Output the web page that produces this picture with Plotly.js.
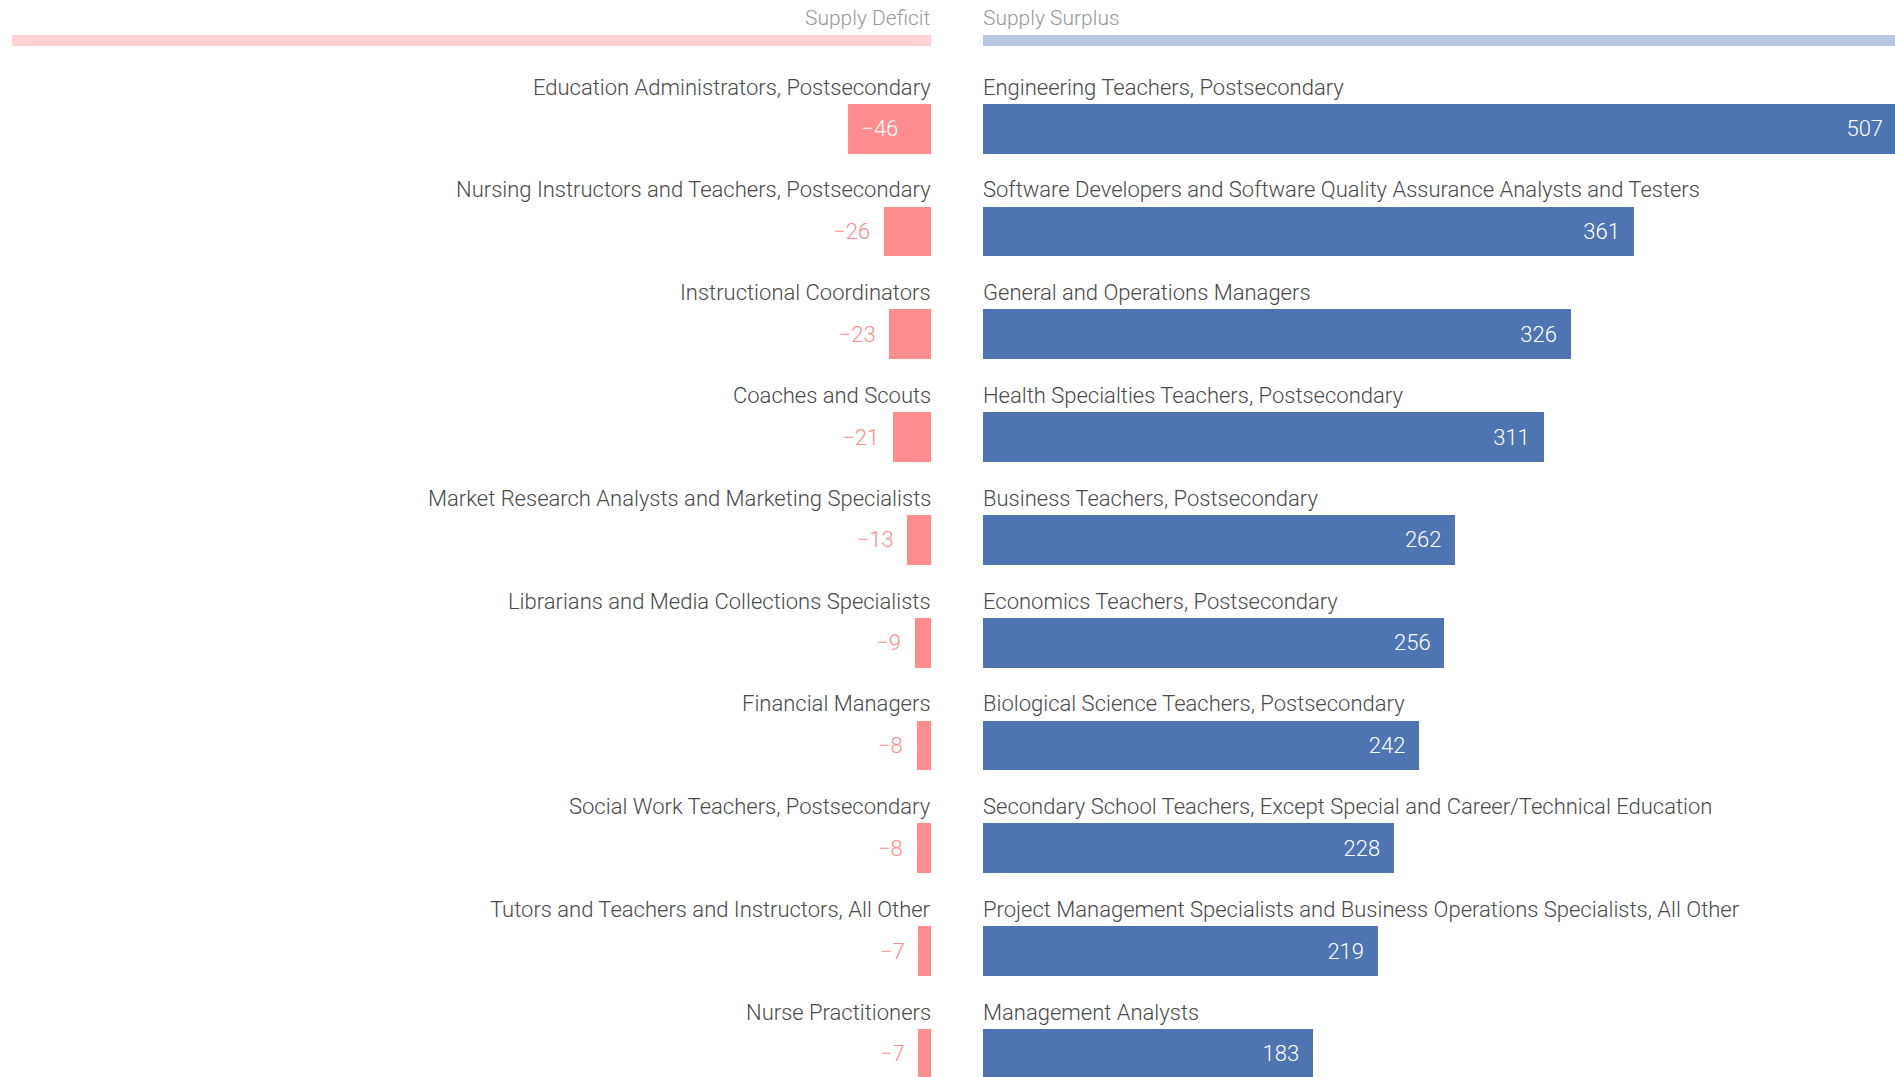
<!DOCTYPE html>
<html>
<head>
<meta charset="utf-8">
<script src="https://cdn.plot.ly/plotly-3.0.1.min.js"></script>
<style>html,body{margin:0;padding:0;background:#fff;}#chart{width:1895px;height:1077px;}</style>
</head>
<body>
<div id="chart"></div>
<script>
// Data
const deficitLabels = [
  "Education Administrators, Postsecondary",
  "Nursing Instructors and Teachers, Postsecondary",
  "Instructional Coordinators",
  "Coaches and Scouts",
  "Market Research Analysts and Marketing Specialists",
  "Librarians and Media Collections Specialists",
  "Financial Managers",
  "Social Work Teachers, Postsecondary",
  "Tutors and Teachers and Instructors, All Other",
  "Nurse Practitioners"
];
const deficitValues = [-46, -26, -23, -21, -13, -9, -8, -8, -7, -7];
const surplusLabels = [
  "Engineering Teachers, Postsecondary",
  "Software Developers and Software Quality Assurance Analysts and Testers",
  "General and Operations Managers",
  "Health Specialties Teachers, Postsecondary",
  "Business Teachers, Postsecondary",
  "Economics Teachers, Postsecondary",
  "Biological Science Teachers, Postsecondary",
  "Secondary School Teachers, Except Special and Career/Technical Education",
  "Project Management Specialists and Business Operations Specialists, All Other",
  "Management Analysts"
];
const surplusValues = [507, 361, 326, 311, 262, 256, 242, 228, 219, 183];
const panelTitles = ["Supply Deficit", "Supply Surplus"];

const ranks = deficitValues.map((_, i) => i);
const NB = "\u00a0\u00a0";
const num = v => (v < 0 ? "\u2212" + Math.abs(v) : String(v));
const isInside = v => Math.abs(v) >= 30;

const FONT = "'Roboto Light', Roboto, 'Open Sans', sans-serif";
const FS = 22;
const maxVal = Math.max(...surplusValues);

const traces = [
  {
    type: "bar", orientation: "h",
    x: deficitValues, y: ranks,
    xaxis: "x", yaxis: "y",
    width: 0.486,
    marker: {color: "#ff8d8d"},
    text: deficitValues.map(v => isInside(v) ? NB + num(v) : num(v) + NB),
    textposition: deficitValues.map(v => isInside(v) ? "inside" : "outside"),
    insidetextanchor: "end",
    constraintext: "none",
    textangle: 0,
    insidetextfont: {color: "#ffffff", family: FONT, size: FS, weight: 300},
    outsidetextfont: {color: "#ff8d8d", family: FONT, size: FS, weight: 300},
    cliponaxis: false,
    hoverinfo: "skip"
  },
  {
    type: "bar", orientation: "h",
    x: surplusValues, y: ranks,
    xaxis: "x2", yaxis: "y",
    width: 0.486,
    marker: {color: "#4e74b2"},
    text: surplusValues.map(v => num(v) + NB),
    textposition: "inside",
    insidetextanchor: "end",
    textangle: 0,
    insidetextfont: {color: "#ffffff", family: FONT, size: FS, weight: 300},
    hoverinfo: "skip"
  }
];

const annotations = [];
deficitLabels.forEach((t, i) => annotations.push({
  xref: "x", yref: "y", x: 0, y: i - 0.405, text: t, showarrow: false,
  xanchor: "right", yanchor: "middle", xshift: 2,
  font: {family: FONT, size: FS, color: "#4a4a4a", weight: 300}
}));
surplusLabels.forEach((t, i) => annotations.push({
  xref: "x2", yref: "y", x: 0, y: i - 0.405, text: t, showarrow: false,
  xanchor: "left", yanchor: "middle", xshift: -2,
  font: {family: FONT, size: FS, color: "#4a4a4a", weight: 300}
}));
annotations.push({
  xref: "x", yref: "y", x: 0, y: -1.077, text: panelTitles[0], showarrow: false,
  xanchor: "right", yanchor: "middle", xshift: 2,
  font: {family: FONT, size: FS - 1, color: "#999999", weight: 300}
});
annotations.push({
  xref: "x2", yref: "y", x: 0, y: -1.077, text: panelTitles[1], showarrow: false,
  xanchor: "left", yanchor: "middle", xshift: -2,
  font: {family: FONT, size: FS - 1, color: "#999999", weight: 300}
});

const shapes = [
  {type: "rect", xref: "x", yref: "y", x0: -maxVal, x1: 0, y0: -0.912, y1: -0.805,
   fillcolor: "#ffd2d4", line: {width: 0}},
  {type: "rect", xref: "x2", yref: "y", x0: 0, x1: maxVal, y0: -0.912, y1: -0.805,
   fillcolor: "#b8c8e2", line: {width: 0}}
];

const layout = {
  width: 1895, height: 1077,
  margin: {l: 0, r: 0, t: 0, b: 0},
  paper_bgcolor: "#ffffff", plot_bgcolor: "#ffffff",
  showlegend: false,
  font: {family: FONT},
  xaxis: {domain: [12/1895, 931/1895], range: [-maxVal, 0], visible: false, fixedrange: true},
  xaxis2: {domain: [983/1895, 1], range: [0, 506], visible: false, fixedrange: true},
  yaxis: {range: [9.225, -1.252], visible: false, fixedrange: true},
  bargap: 0,
  annotations: annotations,
  shapes: shapes
};

Plotly.newPlot("chart", traces, layout, {displayModeBar: false, staticPlot: true});
</script>
</body>
</html>
